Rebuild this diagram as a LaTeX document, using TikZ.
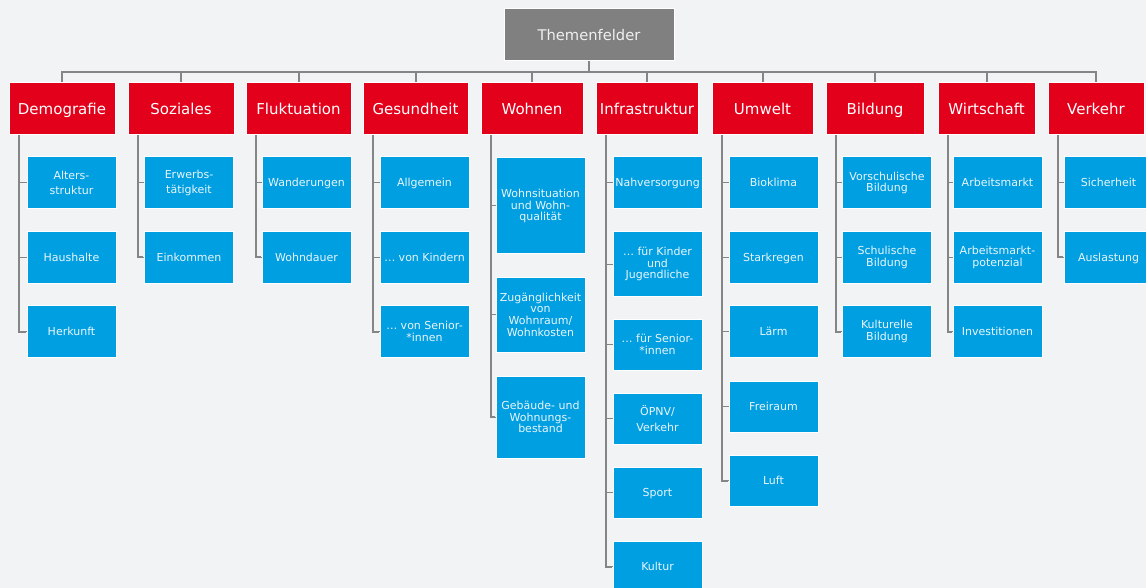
\documentclass[tikz,border=0pt]{standalone}
\usepackage{fontspec}
\setmainfont{DejaVu Sans}
\usetikzlibrary{calc}
\definecolor{bg}{HTML}{F2F3F5}
\definecolor{catred}{HTML}{E2001A}
\definecolor{subblue}{HTML}{009FE1}
\definecolor{topgrey}{HTML}{808080}
\definecolor{linegrey}{HTML}{858585}
\definecolor{subtext}{HTML}{EAF5FB}
\begin{document}
\begin{tikzpicture}[x=1pt,y=-1pt,
  topbox/.style={draw=white,line width=1pt,fill=topgrey,text=white!94!black,minimum width=170pt,minimum height=52pt,inner sep=0pt,text height=13pt,text depth=2.4pt,font=\fontsize{14.7}{17}\selectfont},
  catbox/.style={draw=white,line width=1pt,fill=catred,text=white,minimum height=52pt,inner sep=0pt,text height=13pt,text depth=2.4pt,font=\fontsize{15}{18}\selectfont},
  subbox/.style={draw=white,line width=1pt,fill=subblue,text=subtext,minimum width=89pt,minimum height=52pt,inner sep=0pt,align=center,font=\fontsize{11}{11.6}\selectfont},
  oneline/.style={text height=10.3pt,text depth=2.3pt},
  widesp/.style={font=\fontsize{11}{15.7}\selectfont},
  bus/.style={draw=linegrey,line width=2pt},
  trunk/.style={draw=linegrey,line width=2pt},
  stub/.style={draw=linegrey,line width=1pt}]
\fill[bg] (0,0) rectangle (1146,588);
\clip (0,0) rectangle (1146,588);
\useasboundingbox (0,0) rectangle (1146,588);

% top
\node[topbox] (top) at (589,35) {Themenfelder};

% categories
\node[catbox,minimum width=106pt] (demo) at (62,109) {Demografie};
\node[catbox,minimum width=106pt] (soz) at (181,109) {Soziales};
\node[catbox,minimum width=105pt] (fluk) at (298.5,109) {Fluktuation};
\node[catbox,minimum width=105pt] (ges) at (415.5,109) {Gesundheit};
\node[catbox,minimum width=102pt] (wohn) at (532,109) {Wohnen};
\node[catbox,minimum width=102pt] (infra) at (647,109) {Infrastruktur};
\node[catbox,minimum width=101pt] (umw) at (762.5,109) {Umwelt};
\node[catbox,minimum width=98pt] (bild) at (875,109) {Bildung};
\node[catbox,minimum width=97pt] (wirt) at (986.5,109) {Wirtschaft};
\node[catbox,minimum width=96pt] (verk) at (1096,109) {Verkehr};

% bus
\coordinate (busy) at (589,72);
\draw[bus] (top.south) -- (top.south |- busy);
\draw[bus] (demo.north) -- (demo.north |- busy) -- (verk.north |- busy) -- (verk.north);
\foreach \n in {soz,fluk,ges,wohn,infra,umw,bild,wirt}
  \draw[bus] (\n.north) -- (\n.north |- busy);

% Demografie
\node[subbox,widesp] (d1) at (71.5,183) {Alters-\\struktur};
\node[subbox,oneline] (d2) at (71.5,257.5) {Haushalte};
\node[subbox,oneline] (d3) at (71.5,331.5) {Herkunft};
% Soziales
\node[subbox,widesp] (s1) at (189,183) {Erwerbs-\\tätigkeit};
\node[subbox,oneline] (s2) at (189,257.5) {Einkommen};
% Fluktuation
\node[subbox,oneline] (f1) at (306.5,183) {Wanderungen};
\node[subbox,oneline] (f2) at (306.5,257.5) {Wohndauer};
% Gesundheit
\node[subbox,oneline] (g1) at (424.5,183) {Allgemein};
\node[subbox,oneline] (g2) at (424.5,257.5) {… von Kindern};
\node[subbox] (g3) at (424.5,331.5) {… von Senior-\\*innen};
% Wohnen
\node[subbox,minimum height=96pt] (w1) at (540.5,206) {Wohnsituation\\und Wohn-\\qualität};
\node[subbox,minimum height=75pt] (w2) at (540.5,314.5) {Zugänglichkeit\\von\\Wohnraum/\\Wohnkosten};
\node[subbox,minimum height=82pt] (w3) at (540.5,417) {Gebäude- und\\Wohnungs-\\bestand};
% Infrastruktur
\node[subbox,oneline] (i1) at (657.5,183) {Nahversorgung};
\node[subbox,minimum height=64pt] (i2) at (657.5,264) {… für Kinder\\und\\Jugendliche};
\node[subbox,minimum height=51pt] (i3) at (657.5,344.5) {… für Senior-\\*innen};
\node[subbox,minimum height=51pt,widesp] (i4) at (657.5,418.5) {ÖPNV/\\Verkehr};
\node[subbox,minimum height=51pt,oneline] (i5) at (657.5,492.5) {Sport};
\node[subbox,minimum height=50pt,oneline] (i6) at (657.5,566.5) {Kultur};
% Umwelt
\node[subbox,oneline] (u1) at (773.5,183) {Bioklima};
\node[subbox,oneline] (u2) at (773.5,257.5) {Starkregen};
\node[subbox,oneline] (u3) at (773.5,331.5) {Lärm};
\node[subbox,minimum height=51pt,oneline] (u4) at (773.5,406.5) {Freiraum};
\node[subbox,minimum height=51pt,oneline] (u5) at (773.5,480.5) {Luft};
% Bildung
\node[subbox] (b1) at (887,183) {Vorschulische\\Bildung};
\node[subbox] (b2) at (887,257.5) {Schulische\\Bildung};
\node[subbox] (b3) at (887,331.5) {Kulturelle\\Bildung};
% Wirtschaft
\node[subbox,oneline] (wi1) at (997.5,183) {Arbeitsmarkt};
\node[subbox] (wi2) at (997.5,257.5) {Arbeitsmarkt-\\potenzial};
\node[subbox,oneline] (wi3) at (997.5,331.5) {Investitionen};
% Verkehr
\node[subbox,oneline] (v1) at (1108.5,183) {Sicherheit};
\node[subbox,oneline] (v2) at (1108.5,257.5) {Auslastung};

% trunks
\foreach \p/\last/\others in {demo/d3/{d1,d2}, soz/s2/{s1}, fluk/f2/{f1}, ges/g3/{g1,g2}, wohn/w3/{w1,w2}, infra/i6/{i1,i2,i3,i4,i5}, umw/u5/{u1,u2,u3,u4}, bild/b3/{b1,b2}, wirt/wi3/{wi1,wi2}, verk/v2/{v1}}{
  \coordinate (t\p) at ($(\p.south west)+(10,0)$);
  \draw[trunk] (t\p) |- ($(\last.west)+(-1,0)$);
  \draw[stub] (\last.west) -- (\last.west -| t\p);
  \foreach \c in \others
    \draw[stub] (\c.west) -- (\c.west -| t\p);
}
\end{tikzpicture}
\end{document}
